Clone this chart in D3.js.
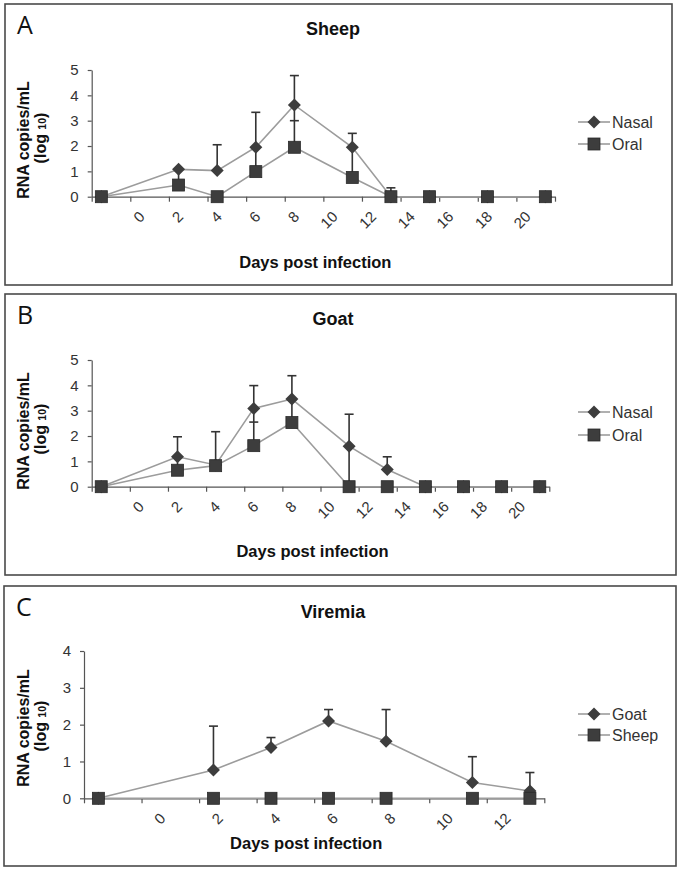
<!DOCTYPE html>
<html><head><meta charset="utf-8">
<script src="https://cdn.jsdelivr.net/npm/d3@7/dist/d3.min.js"></script>
<style>
html,body{margin:0;padding:0;background:#fff;}
svg{display:block;}
text{font-family:"Liberation Sans",Arial,sans-serif;}
</style></head>
<body>
<script>
// ---------- DATA ----------
const xLabelsAB = ["", "0", "2", "4", "6", "8", "10", "12", "14", "16", "18", "20"];
const xLabelsC  = ["", "0", "2", "4", "6", "8", "10", "12"];
const yTicksAB = [0, 1, 2, 3, 4, 5];
const yTicksC  = [0, 1, 2, 3, 4];

// Panel A – Sheep
const daysA          = [0, 4, 6, 8, 10, 13, 15, 17, 20, 23];
const sheepNasal     = [0, 1.08, 1.03, 1.95, 3.62, 1.95, 0, 0, 0, 0];
const sheepNasalErr  = [0, 0, 1.02, 1.38, 1.16, 0.55, 0.35, 0, 0, 0];
const sheepNasalLow  = [0, 0, 0, 0, 0.62, 0, 0, 0, 0, 0];
const sheepOral      = [0, 0.46, 0, 0.99, 1.95, 0.76, 0, 0, 0, 0];
const sheepOralErr   = [0, 0.6, 0, 0.95, 1.05, 1.2, 0, 0, 0, 0];

// Panel B – Goat
const daysB          = [0, 4, 6, 8, 10, 13, 15, 17, 19, 21, 23];
const goatNasal      = [0, 1.18, 0.86, 3.09, 3.46, 1.6, 0.68, 0, 0, 0, 0];
const goatNasalErr   = [0, 0.79, 1.31, 0.9, 0.92, 1.26, 0.5, 0, 0, 0, 0];
const goatNasalLow   = [0, 0, 0, 0.54, 0, 0, 0, 0, 0, 0, 0];
const goatOral       = [0, 0.65, 0.83, 1.62, 2.53, 0, 0, 0, 0, 0, 0];
const goatOralErr    = [0, 0.5, 0, 0.93, 0.9, 1.6, 0, 0, 0, 0, 0];

// Panel C – Viremia
const daysC          = [0, 4, 6, 8, 10, 13, 15];
const viremiaGoat    = [0, 0.77, 1.38, 2.1, 1.55, 0.43, 0.2];
const viremiaGoatErr = [0, 1.19, 0.27, 0.31, 0.86, 0.7, 0.5];
const viremiaSheep   = [0, 0, 0, 0, 0, 0, 0];

// ---------- DRAW ----------
const W = 682, H = 872;
const svg = d3.select("body").append("svg").attr("width", W).attr("height", H);

const LINE = "#9c9c9c", MARK = "#3d3d3d", ERR = "#333", AXIS = "#555";

const panels = [
  { box:[5,4,672,285], letter:"A", title:"Sheep", titleY:35,
    xr:[91.7,555], yr:[196.7,70], yMax:5, yTicks:yTicksAB, labels:xLabelsAB, dMax:23,
    days:daysA, xTitleY:268, yTitleC:140, legY:[122,144],
    series:[
      {name:"Nasal", shape:"diamond", v:sheepNasal, e:sheepNasalErr, lo:sheepNasalLow},
      {name:"Oral", shape:"square", v:sheepOral, e:sheepOralErr}
    ]},
  { box:[5,294,676,575], letter:"B", title:"Goat", titleY:325,
    xr:[91.7,549.3], yr:[486.7,360], yMax:5, yTicks:yTicksAB, labels:xLabelsAB, dMax:23,
    days:daysB, xTitleY:557, yTitleC:431, legY:[412,435],
    series:[
      {name:"Nasal", shape:"diamond", v:goatNasal, e:goatNasalErr, lo:goatNasalLow},
      {name:"Oral", shape:"square", v:goatOral, e:goatOralErr}
    ]},
  { box:[4,586,676,866], letter:"C", title:"Viremia", titleY:618,
    xr:[84,544.3], yr:[798.3,651], yMax:4, yTicks:yTicksC, labels:xLabelsC, dMax:15,
    days:daysC, xTitleY:849, yTitleC:728, legY:[714,735],
    series:[
      {name:"Goat", shape:"diamond", v:viremiaGoat, e:viremiaGoatErr},
      {name:"Sheep", shape:"square", v:viremiaSheep}
    ]}
];

function marker(g, shape, x, y) {
  if (shape === "diamond") {
    g.append("path").attr("d", `M${x},${y-6.5}L${x+6.5},${y}L${x},${y+6.5}L${x-6.5},${y}Z`)
      .attr("fill", MARK);
  } else {
    g.append("rect").attr("x", x-6).attr("y", y-6).attr("width", 12).attr("height", 12)
      .attr("fill", MARK).attr("stroke", "#2a2a2a").attr("stroke-width", 0.8);
  }
}

panels.forEach(p => {
  const g = svg.append("g");
  const [bx0, by0, bx1, by1] = p.box;
  g.append("rect").attr("x", bx0).attr("y", by0).attr("width", bx1-bx0).attr("height", by1-by0)
    .attr("fill", "none").attr("stroke", "#4a4a4a").attr("stroke-width", 1.6);

  g.append("text").attr("x", bx0+12).attr("y", by0+30)
    .style("font-family", "'Open Sans',sans-serif").style("font-size", "25px").attr("fill", "#111")
    .text(p.letter);
  g.append("text").attr("x", 333).attr("y", p.titleY).attr("text-anchor", "middle")
    .style("font-size", "18px").style("font-weight", "bold").attr("fill", "#111").text(p.title);

  const x = d3.scaleLinear().domain([-0.5, p.dMax + 0.5]).range(p.xr);
  const band = d3.scaleBand().domain(p.labels).range(p.xr);
  const y = d3.scaleLinear().domain([0, p.yMax]).range(p.yr);
  const y0 = y(0);

  // y axis
  const ya = g.append("g").attr("transform", `translate(${p.xr[0]},0)`)
    .call(d3.axisLeft(y).tickValues(p.yTicks).tickFormat(d3.format("d")).tickSizeInner(4).tickSizeOuter(0).tickPadding(9));
  ya.select(".domain").attr("stroke", AXIS).attr("stroke-width", 1.2);
  ya.selectAll(".tick line").attr("stroke", AXIS).attr("stroke-width", 1.2);
  ya.selectAll(".tick text").style("font-size", "15px").attr("fill", "#333")
    .style("font-family", "'Liberation Sans',Arial,sans-serif");

  // x axis: tick marks at category boundaries
  const bounds = p.labels.map(l => band(l)).concat([p.xr[1]]);
  const xa = g.append("g").attr("transform", `translate(0,${y0})`)
    .call(d3.axisBottom(d3.scaleIdentity().domain(p.xr)).tickValues(bounds).tickFormat("").tickSizeInner(5).tickSizeOuter(0));
  xa.select(".domain").attr("stroke", AXIS).attr("stroke-width", 1.2);
  xa.selectAll(".tick line").attr("stroke", AXIS).attr("stroke-width", 1.2);

  // x labels at category centres, rotated
  const xl = g.append("g").attr("transform", `translate(0,${y0})`)
    .call(d3.axisBottom(band).tickSize(0).tickPadding(0));
  xl.select(".domain").remove();
  xl.selectAll(".tick text")
    .attr("text-anchor", "end").attr("y", 0).attr("dy", 0)
    .attr("transform", "translate(-4,21) rotate(-45)")
    .style("font-size", "15px").attr("fill", "#333")
    .style("font-family", "'Liberation Sans',Arial,sans-serif");

  // axis titles
  g.append("text").attr("x", (p.xr[0]+p.xr[1])/2 - 8).attr("y", p.xTitleY).attr("text-anchor", "middle")
    .style("font-size", "16.5px").style("font-weight", "bold").attr("fill", "#111").text("Days post infection");
  const yt = g.append("g").attr("transform", `translate(29,${p.yTitleC}) rotate(-90)`);
  yt.append("text").attr("text-anchor", "middle").style("font-size", "16px").style("font-weight", "bold")
    .attr("fill", "#111").text("RNA copies/mL");
  const yt2 = g.append("g").attr("transform", `translate(46,${p.yTitleC - 2}) rotate(-90)`);
  const t2 = yt2.append("text").attr("text-anchor", "middle").style("font-size", "16px").style("font-weight", "bold").attr("fill", "#111");
  t2.append("tspan").text("(log ");
  t2.append("tspan").style("font-size", "10.5px").text("10");
  t2.append("tspan").text(")");

  // series lines
  const line = d3.line().x(d => x(d[0])).y(d => y(d[1]));
  p.series.forEach(s => {
    const pts = p.days.map((d, i) => [d, s.v[i]]);
    g.append("path").attr("d", line(pts)).attr("fill", "none").attr("stroke", LINE).attr("stroke-width", 1.6);
  });
  // error bars
  p.series.forEach(s => {
    if (!s.e) return;
    p.days.forEach((d, i) => {
      const hi = s.e[i] || 0, lo = s.lo ? s.lo[i] : 0;
      if (hi <= 0 && lo <= 0) return;
      const cx = x(d);
      g.append("line").attr("x1", cx).attr("x2", cx)
        .attr("y1", y(s.v[i] - lo)).attr("y2", y(s.v[i] + hi))
        .attr("stroke", ERR).attr("stroke-width", 1.6);
      if (hi > 0) {
        g.append("line").attr("x1", cx-4.5).attr("x2", cx+4.5)
          .attr("y1", y(s.v[i] + hi)).attr("y2", y(s.v[i] + hi))
          .attr("stroke", ERR).attr("stroke-width", 1.6);
      }
    });
  });
  // markers
  p.series.forEach(s => {
    p.days.forEach((d, i) => marker(g, s.shape, x(d), y(s.v[i])));
  });

  // legend
  p.series.forEach((s, k) => {
    const ly = p.legY[k];
    g.append("line").attr("x1", 578).attr("x2", 610).attr("y1", ly).attr("y2", ly)
      .attr("stroke", LINE).attr("stroke-width", 1.6);
    marker(g, s.shape, 594, ly);
    g.append("text").attr("x", 612).attr("y", ly + 5.5).style("font-size", "16px").attr("fill", "#333").text(s.name);
  });
});
</script>
</body></html>
